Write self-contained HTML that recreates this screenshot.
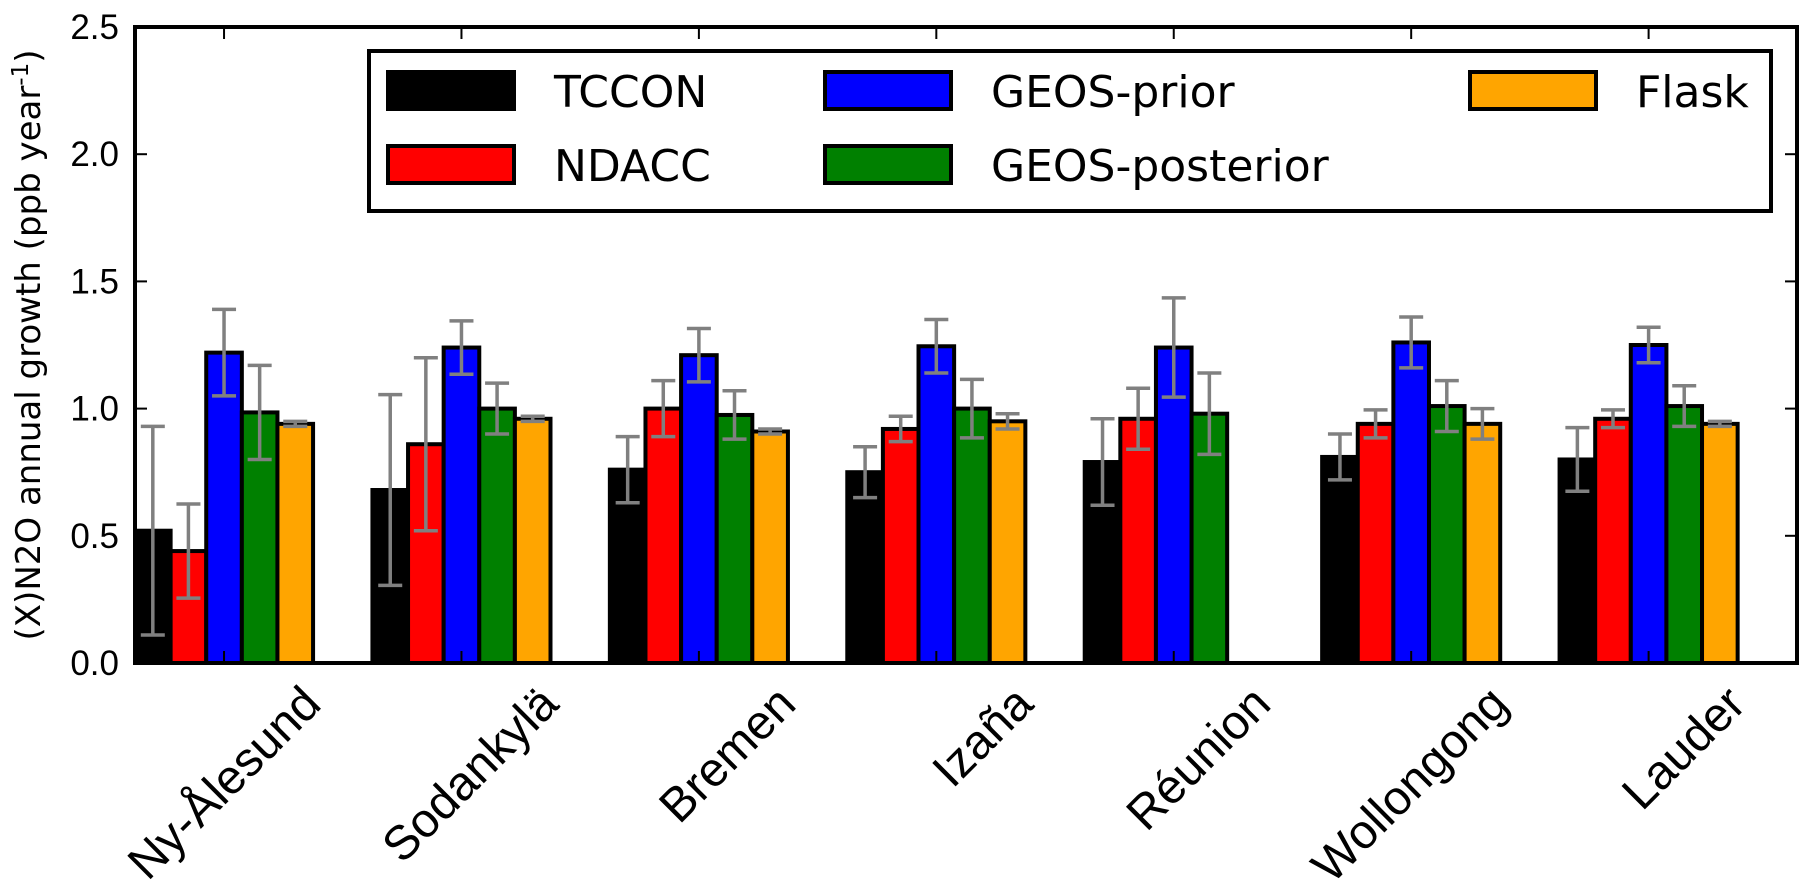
<!DOCTYPE html>
<html><head><meta charset="utf-8"><style>body{margin:0;background:#fff}svg{display:block}text{font-family:"Liberation Sans","DejaVu Sans",sans-serif}.dj{font-family:"DejaVu Sans","Liberation Sans",sans-serif}</style></head>
<body>
<svg id="c" width="1800" height="885" xmlns="http://www.w3.org/2000/svg"></svg>
<script>
const categories=["Ny-Ålesund","Sodankylä","Bremen","Izaña","Réunion","Wollongong","Lauder"];
const seriesNames=["TCCON","NDACC","GEOS-prior","GEOS-posterior","Flask"];
const seriesColors=["#000000","#ff0000","#0000ff","#008000","#ffa500"];
const tccon=[0.52,0.68,0.76,0.75,0.79,0.81,0.80];
const tcconErr=[0.41,0.375,0.13,0.10,0.17,0.09,0.125];
const ndacc=[0.44,0.86,1.00,0.92,0.96,0.94,0.96];
const ndaccErr=[0.185,0.34,0.11,0.05,0.12,0.055,0.035];
const prior=[1.22,1.24,1.21,1.245,1.24,1.26,1.25];
const priorErr=[0.17,0.105,0.105,0.105,0.195,0.10,0.07];
const post=[0.985,1.00,0.975,1.00,0.98,1.01,1.01];
const postErr=[0.185,0.10,0.095,0.115,0.16,0.10,0.08];
const flask=[0.94,0.96,0.91,0.95,null,0.94,0.94];
const flaskErr=[0.01,0.01,0.01,0.03,null,0.06,0.01];
const yTicks=[0,0.5,1.0,1.5,2.0,2.5];
const yTickLabels=["0.0","0.5","1.0","1.5","2.0","2.5"];
const values=[tccon,ndacc,prior,post,flask];
const errs=[tcconErr,ndaccErr,priorErr,postErr,flaskErr];

const svg=document.getElementById('c');const NS='http://www.w3.org/2000/svg';
const L=135,R=1797,T=27,B=663,yMax=2.5;
const pitch=(R-L)/categories.length,bw=pitch*0.15;
const y=v=>B-(v/yMax)*(B-T);
const xg=i=>L+i*pitch;
function mk(tag,a,p){const e=document.createElementNS(NS,tag);for(const k in a)e.setAttribute(k,a[k]);(p||svg).appendChild(e);return e;}
for(let s=0;s<5;s++){for(let i=0;i<categories.length;i++){const v=values[s][i];if(v==null)continue;
 const x=xg(i)+s*bw;
 const r=mk('rect',{x:x,y:y(v),width:bw,height:B-y(v),fill:seriesColors[s],stroke:'#000','stroke-width':4});
 
 
}}
for(let s=0;s<5;s++){for(let i=0;i<categories.length;i++){const v=values[s][i];if(v==null)continue;const e=errs[s][i];
 const cx=xg(i)+s*bw+bw/2;const g=mk('g',{stroke:'#808080','stroke-width':3.5});
 
 
 mk('line',{x1:cx,x2:cx,y1:y(v-e),y2:y(v+e)},g);
 mk('line',{x1:cx-12,x2:cx+12,y1:y(v-e),y2:y(v-e)},g);
 mk('line',{x1:cx-12,x2:cx+12,y1:y(v+e),y2:y(v+e)},g);
}}
const f=mk('rect',{x:L,y:T,width:R-L,height:B-T,fill:'none',stroke:'#000','stroke-width':4});

yTicks.forEach((t,k)=>{const yy=y(t);
 mk('line',{x1:L,x2:L+12,y1:yy,y2:yy,stroke:'#000','stroke-width':2});
 mk('line',{x1:R,x2:R-12,y1:yy,y2:yy,stroke:'#000','stroke-width':2});
 const tx=mk('text',{x:L-16,y:yy+12,'text-anchor':'end','font-size':35});tx.textContent=yTickLabels[k];
 
});
categories.forEach((c,i)=>{const tx=xg(i)+pitch*0.375;
 mk('line',{x1:tx,x2:tx,y1:B,y2:B-12,stroke:'#000','stroke-width':2});
 mk('line',{x1:tx,x2:tx,y1:T,y2:T+12,stroke:'#000','stroke-width':2});
 const ax=xg(i)+pitch*0.69,ay=682;
 const t=mk('text',{transform:`translate(${ax},${ay}) rotate(-45)`,'text-anchor':'end','font-size':48,dy:'0.72em'});t.textContent=c;
 
});
const yl=mk('text',{transform:'translate(40,345) rotate(-90)','text-anchor':'middle','font-size':34,class:'dj'});
yl.innerHTML='(X)N2O annual growth (ppb year<tspan dy="-12" font-size="23">-1</tspan><tspan dy="12">)</tspan>';

const lg=mk('g',{});
mk('rect',{x:369,y:51,width:1402,height:160,fill:'#fff',stroke:'#000','stroke-width':4},lg);
const pos=[[388,72],[388,146],[825,72],[825,146],[1470,72]];
seriesNames.forEach((n,s)=>{const [px,py]=pos[s];
 const e=mk('g',{},lg);
 mk('rect',{x:px,y:py,width:126,height:37,fill:seriesColors[s],stroke:'#000','stroke-width':4},e);
 const t=mk('text',{x:px+166,y:py+35,'font-size':44,class:'dj'},e);t.textContent=n;
});
</script>
</body></html>
